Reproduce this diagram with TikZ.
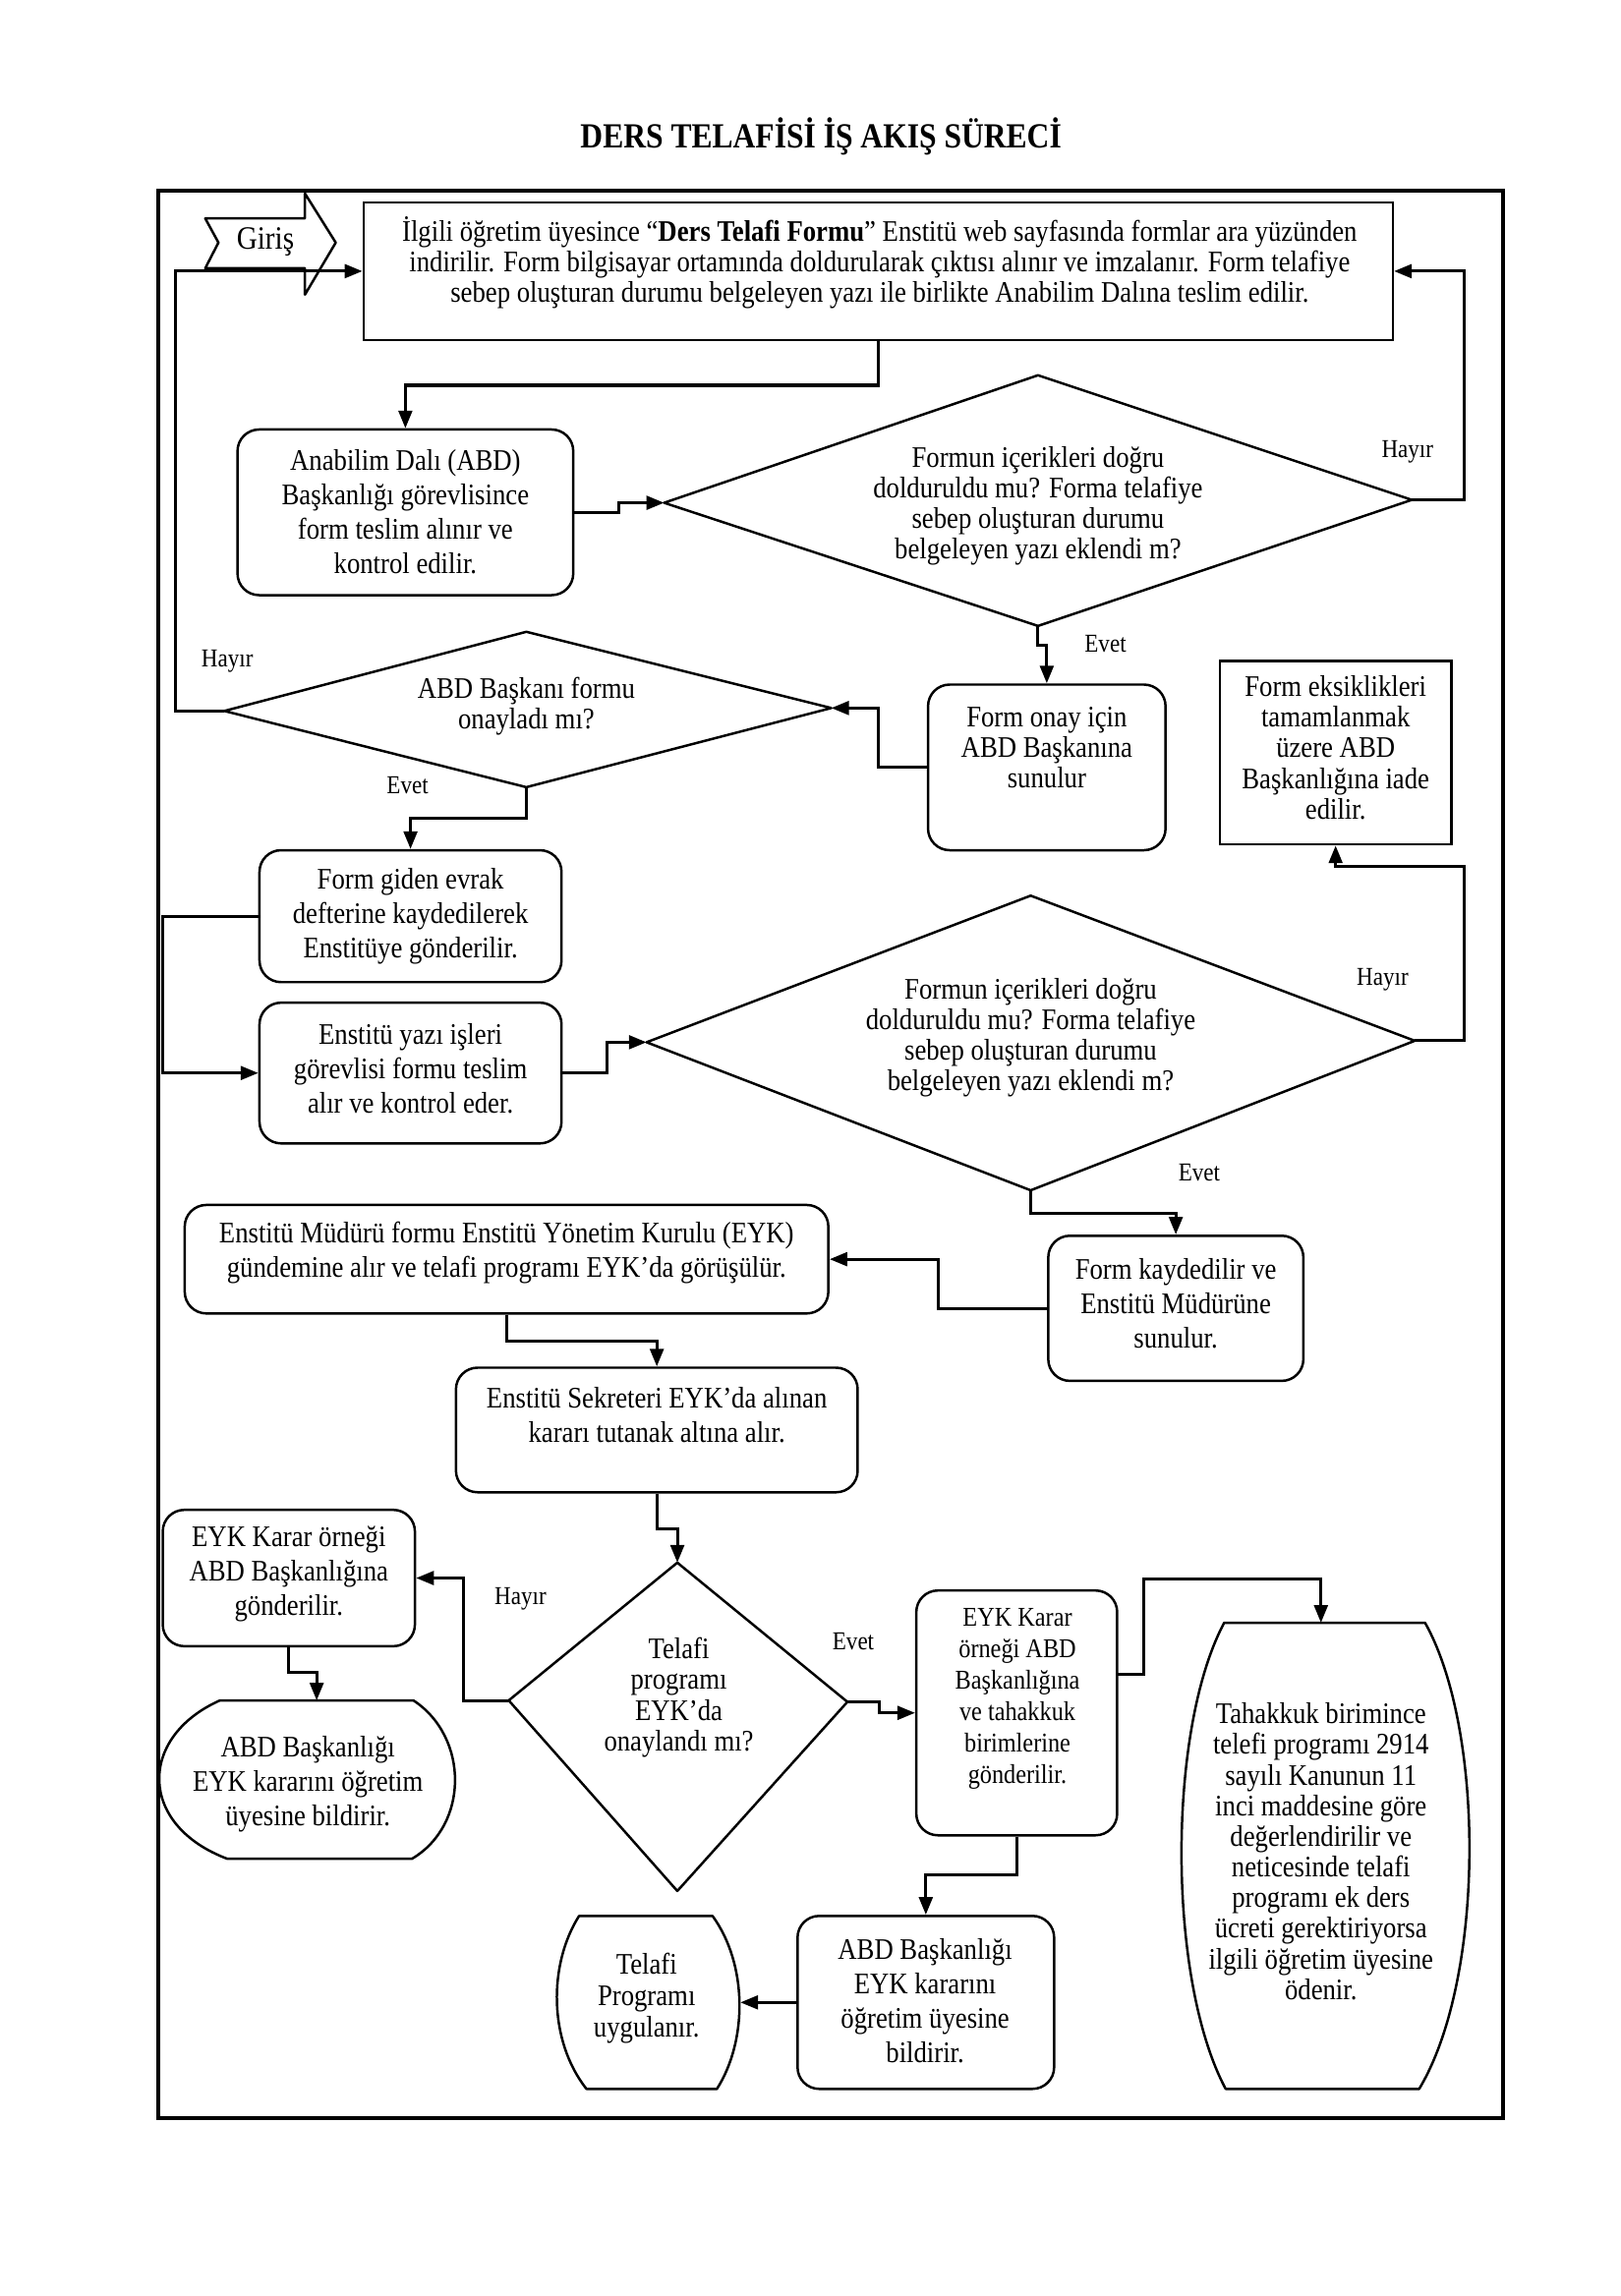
\documentclass[tikz,border=0pt]{standalone}
\usepackage{fontspec}
\setmainfont{Liberation Serif}[FakeStretch=0.88]
\usetikzlibrary{arrows.meta,fit}
\begin{document}
\begin{tikzpicture}[x=0.019cm,y=-0.019cm,
  rbox/.style={draw, line width=0.9pt, rounded corners=0.28cm, inner sep=0pt},
  sbox/.style={draw, line width=0.9pt, inner sep=0pt},
  shp/.style={draw, line width=0.9pt, line join=round},
  txt/.style={align=center, inner sep=0pt, font=\fontsize{11}{12.7}\selectfont},
  txs/.style={align=center, inner sep=0pt, font=\fontsize{11}{11.3}\selectfont},
  lab/.style={inner sep=0pt, font=\fontsize{9.5}{11}\selectfont},
  conn/.style={line width=1.1pt, line join=miter, -{Triangle[length=6.5pt,width=5pt]}}]
\useasboundingbox (0,0) rectangle (1105,1566.3);

% title and frame
\node[inner sep=0pt, font=\fontsize{13}{15}\selectfont\bfseries] (title) at (560,93) {DERS TELAFİSİ İŞ AKIŞ SÜRECİ};
\draw[line width=1.4pt] (108,130) rectangle (1025,1445);

% Giris arrow
\draw[shp] (140,149) -- (208,149) -- (208,132) -- (229,165.5) -- (208,201) -- (208,183) -- (140,183) -- (149,165.5) -- cycle;
\node[inner sep=0pt, font=\fontsize{12}{14}\selectfont] (giris) at (181,165) {Giriş};

% top box
\node[sbox, fit={(248,138) (950,232)}] (T) {};
\node[align=center, inner sep=0pt, font=\fontsize{11}{11.3}\selectfont] (Tt) at (600,179) {İlgili öğretim üyesince “\textbf{Ders Telafi Formu}” Enstitü web sayfasında formlar ara yüzünden\\ indirilir. Form bilgisayar ortamında doldurularak çıktısı alınır ve imzalanır. Form telafiye\\ sebep oluşturan durumu belgeleyen yazı ile birlikte Anabilim Dalına teslim edilir.};

% box A
\node[rbox, fit={(162,293) (391,406)}] (A) {};
\node[txt] (At) at (276.5,349) {Anabilim Dalı (ABD)\\ Başkanlığı görevlisince\\ form teslim alınır ve\\ kontrol edilir.};

% diamond D1
\coordinate (d1t) at (708,256); \coordinate (d1b) at (708,427);
\coordinate (d1l) at (453,343); \coordinate (d1r) at (963,341);
\draw[shp] (d1t) -- (d1r) -- (d1b) -- (d1l) -- cycle;
\node[txs] (d1) at (708,345) {Formun içerikleri doğru\\ dolduruldu mu? Forma telafiye\\ sebep oluşturan durumu\\ belgeleyen yazı eklendi m?};

% box B
\node[rbox, fit={(633,467) (795,580)}] (B) {};
\node[txs] (Bt) at (714,510) {Form onay için\\ ABD Başkanına\\ sunulur};

% diamond D2
\coordinate (d2t) at (359,431); \coordinate (d2b) at (359,537);
\coordinate (d2l) at (153,485); \coordinate (d2r) at (567,483);
\draw[shp] (d2t) -- (d2r) -- (d2b) -- (d2l) -- cycle;
\node[txs] (d2) at (359,482) {ABD Başkanı formu\\ onayladı mı?};

% box E
\node[sbox, fit={(832,451) (990,576)}] (E) {};
\node[txs] (Et) at (911,510) {Form eksiklikleri\\ tamamlanmak\\ üzere ABD\\ Başkanlığına iade\\ edilir.};

% box C
\node[rbox, fit={(177,580) (383,670)}] (C) {};
\node[txt] (Ct) at (280,625) {Form giden evrak\\ defterine kaydedilerek\\ Enstitüye gönderilir.};

% box D
\node[rbox, fit={(177,684) (383,780)}] (D) {};
\node[txt] (Dt) at (280,729) {Enstitü yazı işleri\\ görevlisi formu teslim\\ alır ve kontrol eder.};

% diamond D3
\coordinate (d3t) at (703,611); \coordinate (d3b) at (703,812);
\coordinate (d3l) at (441,711); \coordinate (d3r) at (965,710);
\draw[shp] (d3t) -- (d3r) -- (d3b) -- (d3l) -- cycle;
\node[txs] (d3) at (703,708) {Formun içerikleri doğru\\ dolduruldu mu? Forma telafiye\\ sebep oluşturan durumu\\ belgeleyen yazı eklendi m?};

% box F
\node[rbox, fit={(715,843) (889,942)}] (F) {};
\node[txt] (Ft) at (802,889.5) {Form kaydedilir ve\\ Enstitü Müdürüne\\ sunulur.};

% box G
\node[rbox, fit={(126,822) (565,896)}] (G) {};
\node[txt] (Gt) at (345.5,854.5) {Enstitü Müdürü formu Enstitü Yönetim Kurulu (EYK)\\ gündemine alır ve telafi programı EYK’da görüşülür.};

% box H
\node[rbox, fit={(311,933) (585,1018)}] (H) {};
\node[txt] (Ht) at (448,965) {Enstitü Sekreteri EYK’da alınan\\ kararı tutanak altına alır.};

% diamond D4
\coordinate (d4t) at (462,1066); \coordinate (d4b) at (462,1290);
\coordinate (d4l) at (347,1160); \coordinate (d4r) at (578,1161);
\draw[shp] (d4t) -- (d4r) -- (d4b) -- (d4l) -- cycle;
\node[txs] (d4) at (463,1158) {Telafi\\ programı\\ EYK’da\\ onaylandı mı?};

% box I
\node[rbox, fit={(111,1030) (283,1123)}] (I) {};
\node[txt] (It) at (197,1074) {EYK Karar örneği\\ ABD Başkanlığına\\ gönderilir.};

% shape K
\coordinate (kt) at (216,1160);
\draw[shp] (150,1160) -- (282,1160) .. controls (320,1185) and (320,1245) .. (281,1268) -- (155,1268) .. controls (94,1245) and (94,1185) .. (150,1160) -- cycle;
\node[txt] (Kt) at (210,1217) {ABD Başkanlığı\\ EYK kararını öğretim\\ üyesine bildirir.};

% box J
\node[rbox, fit={(625,1085) (762,1252)}] (J) {};
\node[align=center, inner sep=0pt, font=\fontsize{10}{11.6}\selectfont] (Jt) at (694,1159) {EYK Karar\\ örneği ABD\\ Başkanlığına\\ ve tahakkuk\\ birimlerine\\ gönderilir.};
\coordinate (jr) at (762,1142);

% shape L
\coordinate (lt) at (901,1107);
\draw[shp] (835,1107) -- (972,1107) .. controls (1013,1180) and (1013,1350) .. (968,1425) -- (836,1425) .. controls (796,1350) and (796,1180) .. (835,1107) -- cycle;
\node[align=center, inner sep=0pt, font=\fontsize{11}{11.3}\selectfont] (Lt) at (901,1263) {Tahakkuk birimince\\ telefi programı 2914\\ sayılı Kanunun 11\\ inci maddesine göre\\ değerlendirilir ve\\ neticesinde telafi\\ programı ek ders\\ ücreti gerektiriyorsa\\ ilgili öğretim üyesine\\ ödenir.};

% box M
\node[rbox, fit={(544,1307) (719,1425)}] (M) {};
\node[txt] (Mt) at (631,1365) {ABD Başkanlığı\\ EYK kararını\\ öğretim üyesine\\ bildirir.};

% shape N
\coordinate (nr) at (505,1366);
\draw[shp] (395,1307) -- (486,1307) .. controls (510,1340) and (510,1392) .. (489,1425) -- (400,1425) .. controls (374,1392) and (374,1340) .. (395,1307) -- cycle;
\node[align=center, inner sep=0pt, font=\fontsize{11}{11.6}\selectfont] (Nt) at (441,1363.5) {Telafi\\ Programı\\ uygulanır.};

% connectors
\draw[conn] (T.south) -- ++(0,30) -| (A.north);
\draw[conn] (A.east) -- ++(30,0) |- (d1l);
\draw[conn] (d1r) -- ++(36,0) |- (T.east);
\draw[conn] (d1b) -- ++(0,13) -| (B.north);
\draw[conn] (B.west) -- ++(-33,0) |- (d2r);
\draw[conn] (d2l) -- ++(-33,0) |- (T.west);
\draw[conn] (d2b) -- ++(0,21) -| (C.north);
\draw[conn] (C.west) -- ++(-65,0) |- (D.west);
\draw[conn] (D.east) -- ++(30,0) |- (d3l);
\draw[conn] (d3r) -- ++(34,0) -- ++(0,-119) -| (E.south);
\draw[conn] (d3b) -- ++(0,16) -| (F.north);
\draw[conn] (F.west) -- ++(-74,0) |- (G.east);
\draw[conn] (G.south) -- ++(0,18) -| (H.north);
\draw[conn] (H.south) -- ++(0,24) -| (d4t);
\draw[conn] (d4l) -- ++(-31,0) |- (I.east);
\draw[conn] (d4r) -- ++(22,0) |- (J.west);
\draw[conn] (I.south) -- ++(0,17) -| (kt);
\draw[conn] (jr) -- ++(18,0) |- ++(0,-65) -| (lt);
\draw[conn] (J.south) -- ++(0,26) -| (M.north);
\draw[conn] (M.west) -- (nr);

% labels
\node[lab] (h1) at (960,308) {Hayır};
\node[lab] (e1) at (754,439) {Evet};
\node[lab] (h2) at (155,451) {Hayır};
\node[lab] (e2) at (278,536) {Evet};
\node[lab] (h3) at (943,668) {Hayır};
\node[lab] (e3) at (818,800) {Evet};
\node[lab] (h4) at (355,1091) {Hayır};
\node[lab] (e4) at (582,1120) {Evet};
\end{tikzpicture}
\end{document}
